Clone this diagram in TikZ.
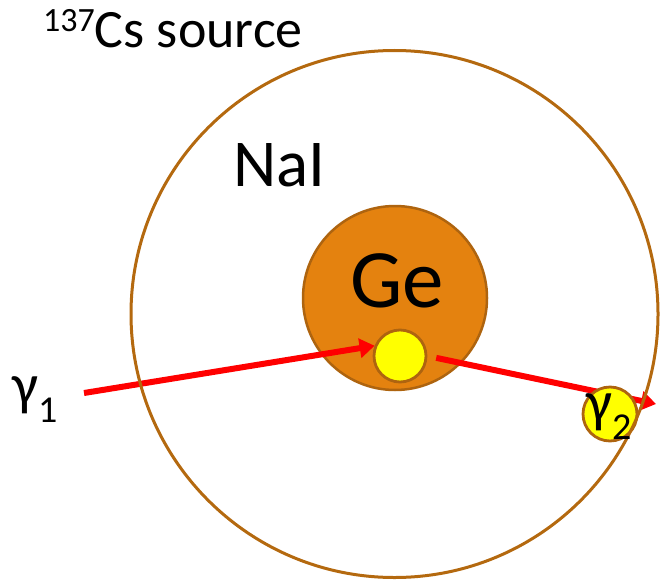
\documentclass[tikz,border=0pt]{standalone}
\usepackage{fontspec}
\setmainfont{Carlito}
\usetikzlibrary{arrows.meta, positioning, calc}
\definecolor{shellbrown}{HTML}{B4690F}
\definecolor{georange}{HTML}{E4820F}
\definecolor{georim}{HTML}{AE640F}
\definecolor{hityellow}{HTML}{FFFF00}
\definecolor{rayred}{HTML}{FF0000}
\newcommand{\fsz}[1]{\fontsize{#1}{#1}\selectfont}
\newcommand{\gammalabel}[4]{%
  \node[anchor=base west, inner sep=0pt] (#1) at (#2,#3)
    {\fsz{58}γ\raisebox{-18pt}{\fsz{38}#4}};}

\begin{document}
\begin{tikzpicture}[x=1pt, y=-1pt,
    ray/.style={-{Triangle[length=15pt, width=19pt]}, rayred, line width=6pt},
    blob/.style={circle, fill=hityellow, draw=georim, line width=2.8pt, inner sep=0pt}]
  \useasboundingbox (0,0) rectangle (660,583);
  % germanium crystal and first hit
  \node[circle, fill=georange, draw=georim, line width=2.5pt, inner sep=0pt,
        minimum size=184pt] (ge) at (395,298) {};
  \node[blob, minimum size=52pt] (core) at (400,356) {};
  \coordinate (gin) at (84,393);
  \coordinate (gout) at (656,404);
  \draw[ray] (gin) -- (core.158);
  \draw[ray, shorten <=9pt] (core.east) -- (gout);
  \node[blob, minimum size=54pt] (hit) at (610,414) {};
  % NaI shell
  \node[circle, draw=shellbrown, line width=3pt, inner sep=0pt,
        minimum size=527pt] (nai) at (394.5,314) {};
  % labels
  \node[anchor=base west, inner sep=0pt] (src) at (43,48)
    {\raisebox{16pt}{\fsz{34}137}\fsz{54}Cs source};
  \node[anchor=base west, inner sep=0pt] (nailbl) at (233,186) {\fsz{67}NaI};
  \node[anchor=base west, inner sep=0pt] (gelbl) at (350,307) {\fsz{83}Ge};
  \gammalabel{g1}{12}{404}{1}
  \gammalabel{g2}{586}{421}{2}
\end{tikzpicture}
\end{document}
